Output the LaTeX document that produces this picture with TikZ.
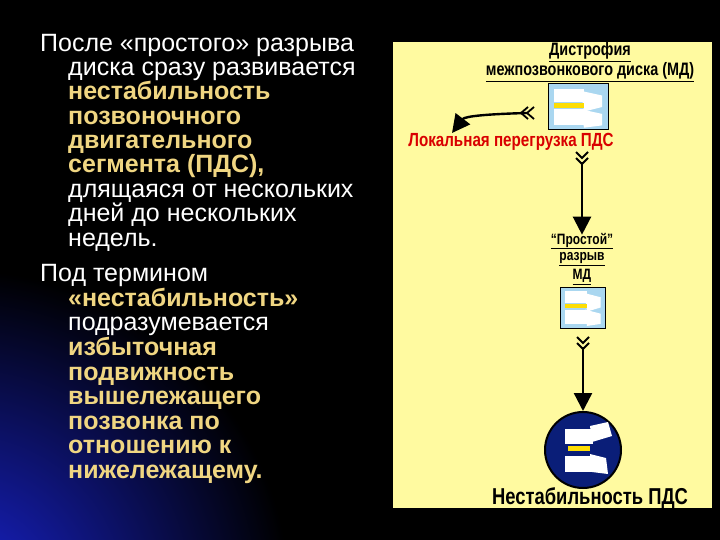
\documentclass[tikz,border=0pt]{standalone}
\usepackage{fontspec}
\setmainfont{Liberation Sans}
\usetikzlibrary{arrows.meta}
\definecolor{gold}{RGB}{240,214,130}
\definecolor{panel}{RGB}{255,250,160}
\definecolor{navy}{RGB}{10,30,120}
\definecolor{icon}{RGB}{170,215,240}
\tikzset{
  line/.style={anchor=base west,text=white,font=\fontsize{25}{25}\selectfont,inner sep=0pt},
  hl/.style={line,text=gold,font=\fontsize{25}{25}\selectfont\bfseries},
  dt/.style={font=\fontsize{18}{18}\selectfont\bfseries,inner sep=0pt,text=black},
  st/.style={dt,font=\fontsize{15}{15}\selectfont\bfseries},
  bigarrow/.style={line width=2.4pt,-{Triangle[length=18pt,width=18pt]}},
  chev/.style={line width=1.8pt},
}
\newcommand{\cond}[1]{\scalebox{0.8}[1.0]{\underline{#1}}}
\newcommand{\spine}[4]{% x y w h
  \fill[icon] (#1,#2) rectangle ++(#3,#4);
  \draw[black,line width=1pt] (#1,#2) rectangle ++(#3,#4);
  \fill[white] (#1+0.1*#3,#2+0.1*#4) rectangle ++(0.5*#3,0.3*#4);
  \fill[white] (#1+0.1*#3,#2+0.55*#4) rectangle ++(0.5*#3,0.35*#4);
  \fill[white] (#1+0.55*#3,#2+0.15*#4) -- ++(0.35*#3,0.1*#4) -- ++(0,0.25*#4) -- ++(-0.3*#3,0.1*#4) -- cycle;
  \fill[white] (#1+0.55*#3,#2+0.55*#4) -- ++(0.35*#3,0.1*#4) -- ++(0,0.25*#4) -- ++(-0.3*#3,0.05*#4) -- cycle;
  \fill[yellow!80!orange] (#1+0.1*#3,#2+0.42*#4) rectangle ++(0.5*#3,0.1*#4);
}
\begin{document}
\begin{tikzpicture}[x=1pt,y=-1pt]
\useasboundingbox (0,0) rectangle (720,540);
\fill[black] (0,0) rectangle (720,540);
\begin{scope}
\clip (0,0) rectangle (720,540);
\shade[inner color={rgb,255:red,25;green,35;blue,210}, outer color=black] (-40,600) circle (330);
\end{scope}
% left text
\node[line] (t1) at (40,52) {После «простого» разрыва};
\node[line] (t2) at (68,76) {диска сразу развивается};
\node[hl] (t3) at (68,100) {нестабильность};
\node[hl] (t4) at (68,125) {позвоночного};
\node[hl] (t5) at (68,149) {двигательного};
\node[hl] (t6) at (68,173) {сегмента (ПДС),};
\node[line] (t7) at (68,198) {длящаяся от нескольких};
\node[line] (t8) at (68,222) {дней до нескольких};
\node[line] (t9) at (68,246) {недель.};
\node[line] (u1) at (40,281) {Под термином};
\node[hl] (u2) at (68,306) {«нестабильность»};
\node[line] (u3) at (68,330) {подразумевается};
\node[hl] (u4) at (68,355) {избыточная};
\node[hl] (u5) at (68,380) {подвижность};
\node[hl] (u6) at (68,404) {вышележащего};
\node[hl] (u7) at (68,429) {позвонка по};
\node[hl] (u8) at (68,453) {отношению к};
\node[hl] (u9) at (68,478) {нижележащему.};
% panel
\fill[panel] (393,42) rectangle (712,508);
\node[dt] (d1) at (590,52) {\cond{Дистрофия}};
\node[dt] (d2) at (590,72) {\cond{межпозвонкового диска (МД)}};
\spine{548}{84}{60}{46}
\node[dt,text=red!85!black,font=\fontsize{19}{19}\selectfont\bfseries] (lp) at (511,142) {\scalebox{0.8}[1.0]{Локальная перегрузка ПДС}};
\coordinate (c1) at (527,113);
\draw[chev] (534,107) -- (527,113) -- (534,119) (528,107) -- (521,113) -- (528,119);
\draw[bigarrow] (c1) .. controls (490,114) and (465,116) .. (452,133);
\draw[chev] (576,152) -- (582,158) -- (588,152) (576,158) -- (582,164) -- (588,158);
\coordinate (c2) at (582,162);
\node[st] (p1) at (582,241) {\cond{“Простой”}};
\node[st] (p2) at (582,259) {\cond{разрыв}};
\node[st] (p3) at (582,277) {\cond{МД}};
\draw[bigarrow] (c2) -- ([yshift=-2pt]p1.north);
\spine{560}{287}{45}{41}
\draw[chev] (577,337) -- (583,343) -- (589,337) (577,343) -- (583,349) -- (589,343);
\coordinate (c3) at (583,347);
\node[circle,draw=black,line width=2pt,fill=navy,minimum size=76pt,inner sep=0pt] (circ) at (583,450) {};
\draw[bigarrow] (c3) -- (circ.north);
\fill[white] (565,429) rectangle (593,444);
\fill[white] (565,456) rectangle (593,472);
\fill[white] (590,426) -- (608,422) -- (612,436) -- (592,442) -- cycle;
\fill[white] (590,454) -- (606,458) -- (608,474) -- (592,472) -- cycle;
\fill[yellow!80!orange] (568,446) rectangle (590,451);
\node[dt,font=\fontsize{23}{23}\selectfont\bfseries] (ns) at (590,499) {\cond{Нестабильность ПДС}};
\end{tikzpicture}
\end{document}
